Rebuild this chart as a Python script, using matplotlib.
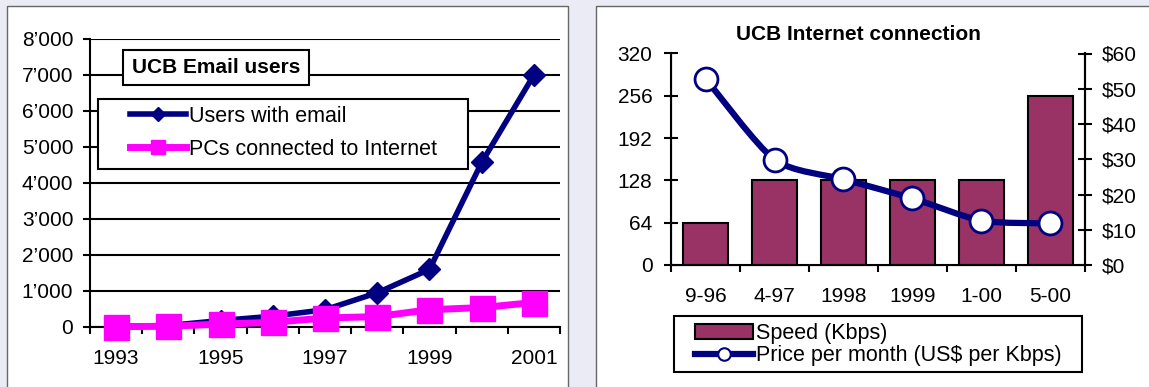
import numpy as np
import matplotlib
matplotlib.use("Agg")
from matplotlib import pyplot as plt
from matplotlib.patches import Rectangle, PathPatch, Patch
from matplotlib.path import Path
from matplotlib.lines import Line2D
from matplotlib.ticker import FuncFormatter

# left chart data
years = ['1993', '1994', '1995', '1996', '1997', '1998', '1999', '2000', '2001']
users = [20, 40, 180, 300, 480, 950, 1600, 4570, 7000]
pcs = [10, 20, 80, 130, 250, 290, 480, 540, 680]

# right chart data
periods = ['9-96', '4-97', '1998', '1999', '1-00', '5-00']
speed = [64, 128, 128, 128, 128, 256]
price = [52.9, 29.9, 24.3, 18.9, 12.6, 11.8]

plt.rcParams['font.family'] = ['Liberation Sans', 'DejaVu Sans']

W, H = 1149, 387
NAVY = '#000080'
MAGENTA = '#FF00FF'
MAROON = '#993366'


def fx(px):
    return px / W


def fy(py):
    return 1 - py / H


fig = plt.figure(figsize=(W / 100, H / 100), dpi=100)
fig.patch.set_facecolor('#EBEBF5')

# white panels
fig.add_artist(Rectangle((fx(7), fy(400)), (568 - 7) / W, (400 - 6) / H, transform=fig.transFigure,
                         facecolor='white', edgecolor='#666666', lw=1, zorder=-2))
fig.add_artist(Rectangle((fx(596), fy(400)), (1160 - 596) / W, (400 - 6) / H, transform=fig.transFigure,
                         facecolor='white', edgecolor='#666666', lw=1, zorder=-2))

# ---------- left: email users ----------
ax1 = fig.add_axes([fx(90), fy(327), (560 - 90) / W, (327 - 39) / H])
ax1.set_facecolor('none')
x = np.arange(len(years))
ax1.plot(x, users, color=NAVY, lw=4, marker='D', ms=11, zorder=3, clip_on=False)
ax1.plot(x, pcs, color=MAGENTA, lw=5, marker='s', ms=18, zorder=4, clip_on=False)
ax1.set_xlim(-0.5, len(years) - 0.5)
ax1.set_ylim(0, 8000)
ax1.set_yticks(range(0, 8001, 1000))
ax1.yaxis.set_major_formatter(FuncFormatter(lambda v, p: f"{int(v):,}".replace(",", "\u2019")))
ax1.yaxis.grid(True, color='black', lw=1.5)
ax1.set_axisbelow(True)
ax1.set_xticks(np.arange(-0.5, len(years), 1))
ax1.set_xticklabels([])
ax1.set_xticks(x[::2], minor=True)
ax1.set_xticklabels(years[::2], minor=True)
ax1.tick_params(axis='x', which='major', direction='out', length=5, width=1.5)
ax1.tick_params(axis='x', which='minor', length=0, pad=16, labelsize=15)
ax1.tick_params(axis='y', direction='out', length=5, width=1.5, pad=7, labelsize=15)
for s in ['top', 'right']:
    ax1.spines[s].set_visible(False)
for s in ['left', 'bottom']:
    ax1.spines[s].set_linewidth(1.5)

# title box and legend box
fig.add_artist(Rectangle((fx(123), fy(85)), (309 - 123) / W, (85 - 50) / H, transform=fig.transFigure,
                         facecolor='white', edgecolor='black', lw=1.5, zorder=5))
fig.text(fx(132), fy(67.5), "UCB Email users", fontsize=15, fontweight='bold', va='center', zorder=6)
fig.add_artist(Rectangle((fx(98), fy(169)), (468 - 98) / W, (169 - 99) / H, transform=fig.transFigure,
                         facecolor='white', edgecolor='black', lw=1.5, zorder=5))
h1 = [Line2D([], [], color=NAVY, lw=4, marker='D', ms=7),
      Line2D([], [], color=MAGENTA, lw=5, marker='s', ms=10)]
leg1 = fig.legend(h1, ['Users with email', 'PCs connected to Internet'], loc='upper left',
                  bbox_to_anchor=(fx(130), fy(106)), frameon=False, borderpad=0, borderaxespad=0,
                  handlelength=2.6, handletextpad=0.15, labelspacing=0.55, fontsize=15.5)
leg1.set_zorder(6)

# ---------- right: internet connection ----------
ax2 = fig.add_axes([fx(671), fy(265), (1085 - 671) / W, (265 - 53.5) / H])
ax2.set_facecolor('none')
xp = np.arange(len(periods))
ax2.bar(xp, speed, width=0.66, color=MAROON, edgecolor='black', lw=1.5, zorder=2)
ax2.set_xlim(-0.5, len(periods) - 0.5)
ax2.set_ylim(0, 320)
ax2.set_yticks(range(0, 321, 64))
ax2.set_xticks(np.arange(-0.5, len(periods), 1))
ax2.set_xticklabels([])
ax2.set_xticks(xp, minor=True)
ax2.set_xticklabels(periods, minor=True)
ax2.tick_params(axis='x', which='major', direction='out', length=5, width=1.5)
ax2.tick_params(axis='x', which='minor', length=0, pad=16, labelsize=15)
ax2.tick_params(axis='y', direction='inout', length=9.5, width=1.5, pad=8.5, labelsize=15)
ax2.spines['top'].set_visible(False)
for s in ['left', 'bottom', 'right']:
    ax2.spines[s].set_linewidth(1.5)

ax3 = ax2.twinx()
ax3.set_ylim(0, 60)
ax3.set_yticks(range(0, 61, 10))
ax3.yaxis.set_major_formatter(FuncFormatter(lambda v, p: f"${int(v)}"))
ax3.tick_params(axis='y', direction='inout', length=9.5, width=1.5, pad=7, labelsize=15)
ax3.spines['top'].set_visible(False)
ax3.spines['right'].set_linewidth(1.5)

# smoothed price line (bezier through the data points)
pts = np.column_stack([xp, price]).astype(float)
verts = [tuple(pts[0])]
codes = [Path.MOVETO]
n = len(pts)
for i in range(n - 1):
    p0 = pts[max(i - 1, 0)]
    p1 = pts[i]
    p2 = pts[i + 1]
    p3 = pts[min(i + 2, n - 1)]
    c1 = p1 + (p2 - p0) / 8
    c2 = p2 - (p3 - p1) / 8
    verts += [tuple(c1), tuple(c2), tuple(p2)]
    codes += [Path.CURVE4] * 3
ax3.add_patch(PathPatch(Path(verts, codes), facecolor='none', edgecolor=NAVY, lw=4.5,
                        capstyle='round', joinstyle='round', zorder=3))
ax3.plot(xp, price, ls='none', marker='o', ms=16.5, mfc='white', mec=NAVY, mew=2, zorder=4, clip_on=False)

fig.text(fx(858), fy(35), "UCB Internet connection", fontsize=15, fontweight='bold', ha='center', va='center')

fig.add_artist(Rectangle((fx(674), fy(372)), (1082 - 674) / W, (372 - 316) / H, transform=fig.transFigure,
                         facecolor='white', edgecolor='black', lw=1.5, zorder=5))
h2 = [Patch(facecolor=MAROON, edgecolor='black', lw=1.5),
      Line2D([], [], color=NAVY, lw=4.5, marker='o', ms=9, mfc='white', mec=NAVY, mew=1.5)]
leg2 = fig.legend(h2, ['Speed (Kbps)', 'Price per month (US$ per Kbps)'], loc='upper left',
                  bbox_to_anchor=(fx(695), fy(323)), frameon=False, borderpad=0, borderaxespad=0,
                  handlelength=2.7, handletextpad=0.15, labelspacing=0.05, fontsize=15.5)
leg2.set_zorder(6)

fig.savefig('out.png', dpi=100, facecolor=fig.get_facecolor())
